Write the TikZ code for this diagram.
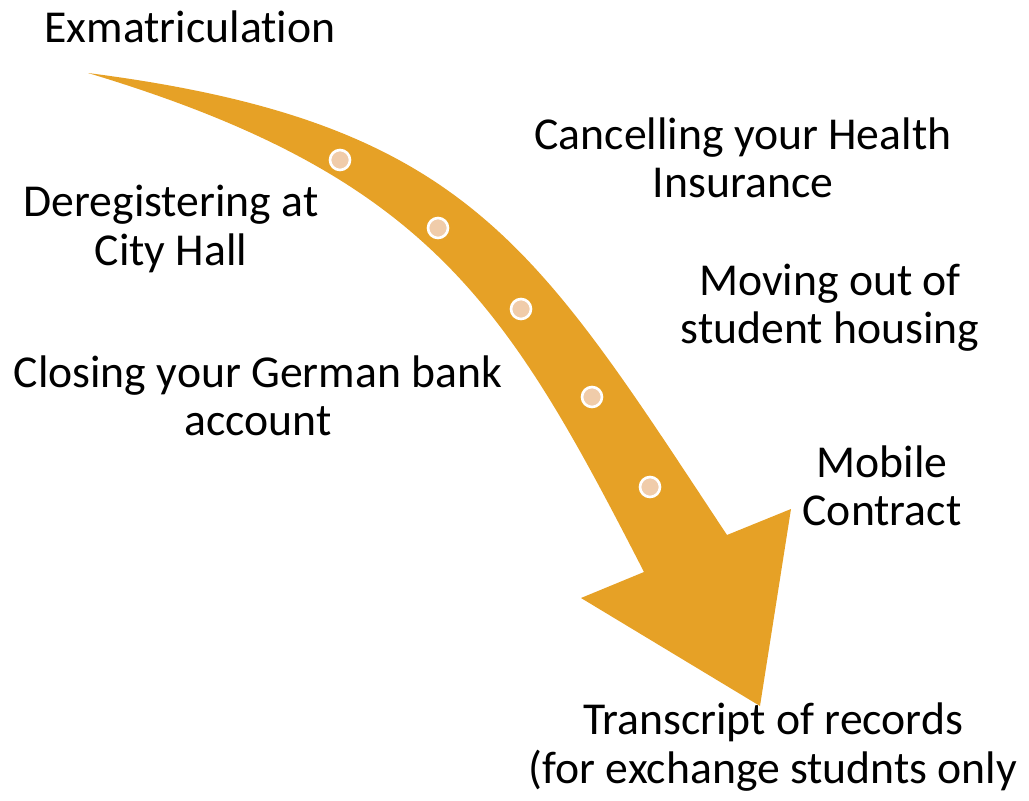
\documentclass[tikz,border=0pt]{standalone}
\usepackage{fontspec}
\setmainfont{Carlito}[RawFeature={-liga}]
\usepackage{tikz}
\usetikzlibrary{shapes,arrows,shapes.geometric}
\definecolor{arrowgold}{RGB}{230,161,38}
\definecolor{dotpeach}{RGB}{240,204,170}

\begin{document}
\begin{tikzpicture}[
	x=0.02cm, y=-0.02cm,
	task/.style={align=center,inner sep=0pt,font=\fontsize{26}{27.5}\selectfont},
	dot/.style={circle,minimum size=0.4cm,inner sep=0pt,fill=dotpeach,draw=white,line width=1.5pt}
	]
	\useasboundingbox (0,0) rectangle (1029,801);
	% the bent arrow
	\fill [arrowgold] (88,73) .. controls (468,122) and (535,245) .. (727,535)
		-- (791,509) -- (760,706) -- (581,598) -- (644,572)
		.. controls (507,305) and (430,176) .. (88,73) -- cycle;
	% steps on the arrow
	\node [dot,name=d1] (d1) at (340,160) {};
	\node [dot,name=d2] (d2) at (438,228) {};
	\node [dot,name=d3] (d3) at (521,309) {};
	\node [dot,name=d4] (d4) at (592,397) {};
	\node [dot,name=d5] (d5) at (650,487) {};
	% texts
	\node [task,name=exma] (exma) at (190,27) {Exmatriculation};
	\node [task,name=city] (city) at (171,229) {Deregistering at\\City Hall};
	\node [task,name=bank] (bank) at (258,396) {Closing your German bank\\account};
	\node [task,name=health] (health) at (743,158) {Cancelling your Health\\Insurance};
	\node [task,name=housing] (housing) at (830,308) {Moving out of\\student housing};
	\node [task,name=mobile] (mobile) at (882,486) {Mobile\\Contract};
	\node [task,name=tor] (tor) at (773,747) {Transcript of records\\(for exchange studnts only};
\end{tikzpicture}
\end{document}
